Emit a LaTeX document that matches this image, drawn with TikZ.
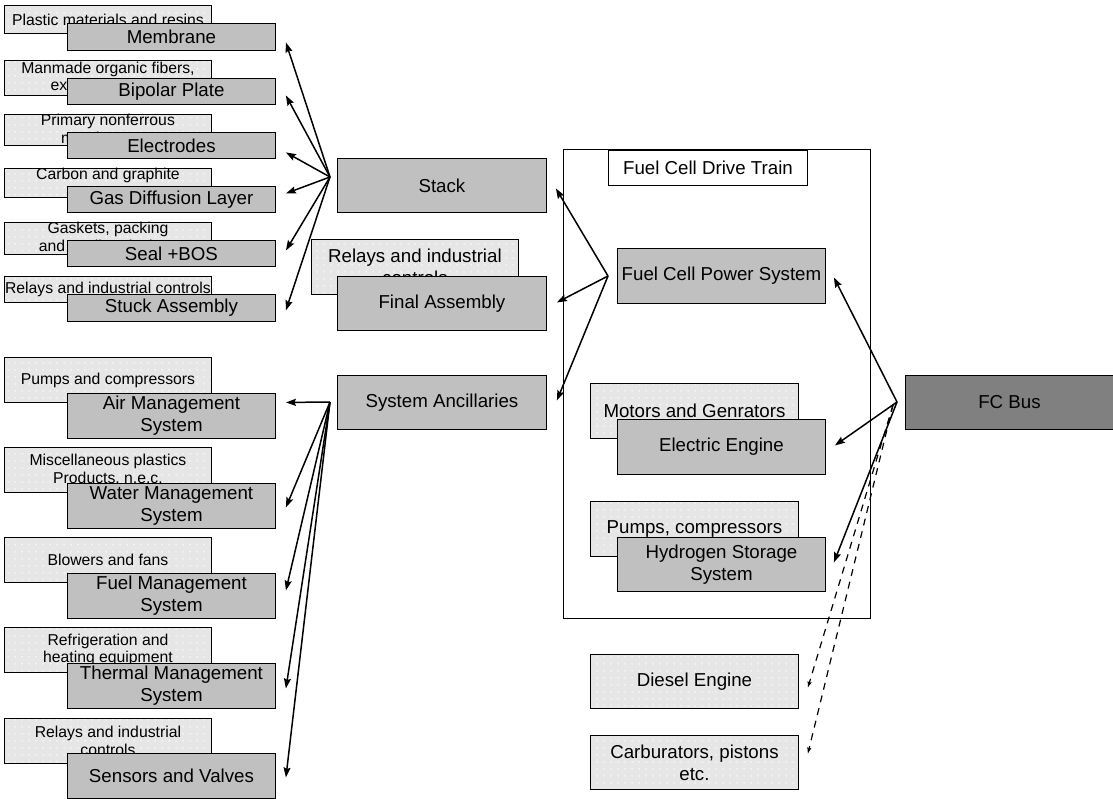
\documentclass[tikz,border=0pt]{standalone}
\usepackage{fontspec}
\setmainfont{Liberation Sans}
\usetikzlibrary{arrows.meta,patterns}
\pgfdeclarepatternformonly{sparsedots}{\pgfqpoint{-1pt}{-1pt}}{\pgfqpoint{6pt}{6pt}}{\pgfqpoint{7pt}{7pt}}{\pgfpathcircle{\pgfqpoint{2.5pt}{2.5pt}}{0.9pt}\pgfusepath{fill}}
\definecolor{lightbox}{HTML}{E6E6E6}
\definecolor{darkbox}{HTML}{C0C0C0}
\definecolor{busbox}{HTML}{808080}
\tikzset{
  lightnode/.style={draw=black, line width=0.9pt, preaction={fill=lightbox}, pattern=sparsedots, pattern color=white, anchor=north west, align=center, inner sep=0pt},
  darknode/.style={draw=black, line width=0.9pt, fill=darkbox, anchor=north west, align=center, inner sep=0pt},
  smallfont/.style={font=\fontsize{15.75}{17.7}\selectfont},
  bigfont/.style={font=\fontsize{18.7}{22}\selectfont},
  arr/.style={line width=1.5pt, -{Stealth[length=10pt,width=7pt,inset=1.5pt]}},
  dasharr/.style={line width=1.2pt, dashed, dash pattern=on 7pt off 6pt, -{Stealth[length=6pt,width=4pt,inset=1pt]}}
}
\begin{document}
\begin{tikzpicture}[x=1pt,y=-1pt]
\useasboundingbox (0,0) rectangle (1113,799);

% container
\node[draw=black, line width=0.9pt, anchor=north west, minimum width=307pt, minimum height=469pt, inner sep=0pt] (train) at (563,149) {};
\node[draw=black, line width=0.9pt, fill=white, anchor=north west, minimum width=199pt, minimum height=35pt, inner sep=0pt, bigfont] (trainlabel) at (608,150) {Fuel Cell Drive Train};

% top-left column
\node[lightnode, smallfont, minimum width=207pt, minimum height=28pt] (l1) at (4,5) {Plastic materials and resins};
\node[darknode, bigfont, minimum width=208pt, minimum height=27pt] (membrane) at (67,23) {Membrane};
\node[lightnode, smallfont, minimum width=207pt, minimum height=35pt] (l2) at (4,60) {Manmade organic fibers,\\except cellulosic};
\node[darknode, bigfont, minimum width=208pt, minimum height=26pt] (bipolar) at (67,78) {Bipolar Plate};
\node[lightnode, smallfont, minimum width=207pt, minimum height=26pt] (l3) at (4,114) {Primary nonferrous\\metals, n.e.c.};
\node[darknode, bigfont, minimum width=208pt, minimum height=26pt] (electrodes) at (67,132) {Electrodes};
\node[lightnode, smallfont, minimum width=207pt, minimum height=26pt] (l4) at (4,168) {Carbon and graphite\\\mbox{}};
\node[darknode, bigfont, minimum width=208pt, minimum height=26pt] (gdl) at (67,186) {Gas Diffusion Layer};
\node[lightnode, smallfont, minimum width=207pt, minimum height=26pt] (l5) at (4,222) {Gaskets, packing\\and sealing devices};
\node[darknode, bigfont, minimum width=208pt, minimum height=26pt] (seal) at (67,240) {Seal +BOS};
\node[lightnode, smallfont, minimum width=207pt, minimum height=26pt] (l6) at (4,276) {Relays and industrial controls};
\node[darknode, bigfont, minimum width=208pt, minimum height=27pt] (stuck) at (67,294) {Stuck Assembly};

% bottom-left column
\node[lightnode, smallfont, minimum width=207pt, minimum height=45pt] (m1) at (4,357) {Pumps and compressors};
\node[darknode, bigfont, minimum width=208pt, minimum height=45pt] (air) at (67,393) {Air Management\\System};
\node[lightnode, smallfont, minimum width=207pt, minimum height=45pt] (m2) at (4,447) {Miscellaneous plastics\\Products, n.e.c.};
\node[darknode, bigfont, minimum width=208pt, minimum height=45pt] (water) at (67,483) {Water Management\\System};
\node[lightnode, smallfont, minimum width=207pt, minimum height=45pt] (m3) at (4,537) {Blowers and fans};
\node[darknode, bigfont, minimum width=208pt, minimum height=45pt] (fuel) at (67,573) {Fuel Management\\System};
\node[lightnode, smallfont, minimum width=207pt, minimum height=45pt] (m4) at (4,627) {Refrigeration and\\heating equipment};
\node[darknode, bigfont, minimum width=208pt, minimum height=45pt] (thermal) at (67,663) {Thermal Management\\System};
\node[lightnode, smallfont, minimum width=207pt, minimum height=45pt] (m5) at (4,718) {Relays and industrial\\controls};
\node[darknode, bigfont, minimum width=208pt, minimum height=45pt] (sensors) at (67,753) {Sensors and Valves};

% middle column
\node[darknode, bigfont, minimum width=209pt, minimum height=54pt] (stack) at (337,158) {Stack};
\node[lightnode, bigfont, minimum width=207pt, minimum height=55pt] (relaysmid) at (311,239) {Relays and industrial\\controls};
\node[darknode, bigfont, minimum width=209pt, minimum height=54pt] (final) at (337,276) {Final Assembly};
\node[darknode, bigfont, minimum width=209pt, minimum height=54pt] (ancill) at (337,375) {System Ancillaries};

% right column inside drive train
\node[darknode, bigfont, minimum width=208pt, minimum height=55pt] (fcps) at (617,248) {Fuel Cell Power System};
\node[lightnode, bigfont, minimum width=208pt, minimum height=55pt] (motors) at (590,383) {Motors and Genrators};
\node[darknode, bigfont, minimum width=208pt, minimum height=55pt] (electric) at (617,419) {Electric Engine};
\node[lightnode, bigfont, minimum width=208pt, minimum height=55pt] (pumps) at (590,501) {Pumps, compressors};
\node[darknode, bigfont, minimum width=208pt, minimum height=54pt] (hydrogen) at (617,537) {Hydrogen Storage\\System};

% below
\node[lightnode, bigfont, minimum width=208pt, minimum height=54pt] (diesel) at (590,654) {Diesel Engine};
\node[lightnode, bigfont, minimum width=208pt, minimum height=54pt] (carb) at (590,735) {Carburators, pistons\\etc.};

% FC Bus
\node[draw=black, line width=0.9pt, fill=busbox, anchor=north west, minimum width=208pt, minimum height=54pt, inner sep=0pt, bigfont] (bus) at (905,375) {FC Bus};

% hub points
\coordinate (hubstack) at (330,177);
\coordinate (hubanc) at (330,402);
\coordinate (hubtrain) at (608,276);
\coordinate (hubbus) at (897,402);
\coordinate (hubdash) at (893,405);

% arrows top-left
\draw[arr] (hubstack) -- ([shift={(10,5.5)}]membrane.east);
\draw[arr] (hubstack) -- ([shift={(10,4)}]bipolar.east);
\draw[arr] (hubstack) -- ([shift={(10,7)}]electrodes.east);
\draw[arr] (hubstack) -- ([shift={(10,-6)}]gdl.east);
\draw[arr] (hubstack) -- ([shift={(10,-3)}]seal.east);
\draw[arr] (hubstack) -- ([shift={(10,2.5)}]stuck.east);

% arrows bottom-left
\draw[arr] (hubanc) -- ([shift={(10,-13.5)}]air.east);
\draw[arr] (hubanc) -- ([shift={(10,1.5)}]water.east);
\draw[arr] (hubanc) -- ([shift={(10,-5.5)}]fuel.east);
\draw[arr] (hubanc) -- ([shift={(10,2.5)}]thermal.east);
\draw[arr] (hubanc) -- ([shift={(10,1.5)}]sensors.east);

% arrows middle
\draw[arr] (hubtrain) -- ([shift={(9,3)}]stack.east);
\draw[arr] (hubtrain) -- ([shift={(10,-1)}]final.east);
\draw[arr] (hubtrain) -- ([shift={(10,-2)}]ancill.east);

% arrows from bus
\draw[arr] (hubbus) -- ([shift={(8,1.5)}]fcps.east);
\draw[arr] (hubbus) -- ([shift={(9,-1.5)}]electric.east);
\draw[arr] (hubbus) -- ([shift={(8,-2)}]hydrogen.east);
\draw[dasharr] (hubdash) -- ([shift={(9,6)}]diesel.east);
\draw[dasharr] (hubdash) -- ([shift={(9,-9)}]carb.east);
\end{tikzpicture}
\end{document}
